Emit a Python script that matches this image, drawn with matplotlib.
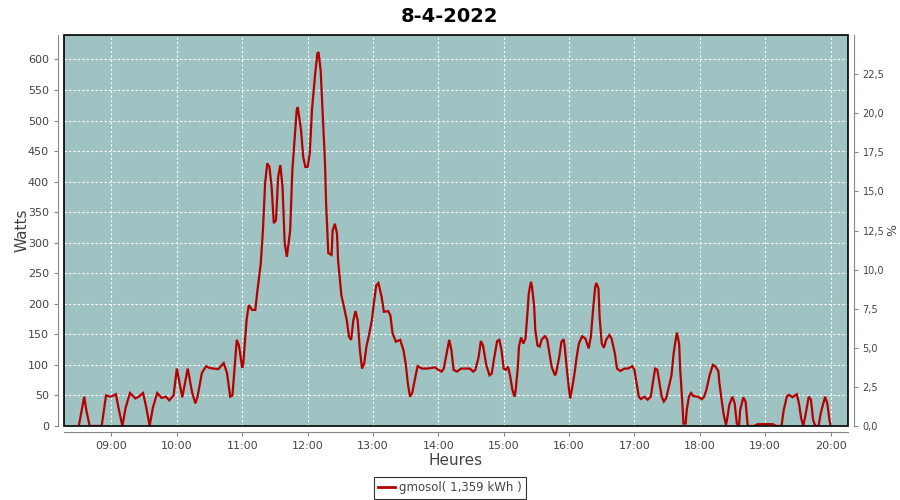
import matplotlib
matplotlib.use("Agg")
import matplotlib.pyplot as plt
import matplotlib.dates as mdates
from matplotlib.ticker import FuncFormatter, MultipleLocator
from matplotlib.patches import Rectangle
from matplotlib.lines import Line2D
import pandas as pd

title = "8-4-2022"
series_name = "gmosol( 1,359 kWh )"

times = [
    "08:30", "08:35", "08:37", "08:40", "08:51", "08:55", "08:59", "09:02", "09:04", "09:07",
    "09:10", "09:13", "09:17", "09:22", "09:25", "09:29", "09:32", "09:35", "09:38", "09:42",
    "09:46", "09:50", "09:53", "09:57", "10:00", "10:05", "10:10", "10:14", "10:17", "10:19",
    "10:23", "10:27", "10:30", "10:38", "10:43", "10:46", "10:49", "10:51", "10:55", "10:57",
    "11:00", "11:01", "11:04", "11:06", "11:09", "11:12", "11:14", "11:17", "11:19", "11:21",
    "11:23", "11:25", "11:27", "11:29", "11:31", "11:33", "11:35", "11:37", "11:39", "11:41",
    "11:44", "11:46", "11:48", "11:50", "11:51", "11:54", "11:56", "11:58", "12:00", "12:02",
    "12:04", "12:07", "12:09", "12:10", "12:12", "12:14", "12:16", "12:17", "12:19", "12:22",
    "12:23", "12:25", "12:27", "12:28", "12:30", "12:31", "12:33", "12:36", "12:38", "12:40",
    "12:42", "12:44", "12:46", "12:48", "12:50", "12:52", "12:54", "12:56", "12:59", "13:01",
    "13:03", "13:05", "13:08", "13:10", "13:14", "13:16", "13:18", "13:21", "13:25", "13:28",
    "13:30", "13:32", "13:34", "13:36", "13:39", "13:41", "13:45", "13:50", "13:57", "14:00",
    "14:03", "14:05", "14:07", "14:10", "14:12", "14:14", "14:17", "14:21", "14:29", "14:32",
    "14:34", "14:37", "14:39", "14:41", "14:44", "14:47", "14:49", "14:52", "14:54", "14:56",
    "14:58", "15:00", "15:02", "15:04", "15:06", "15:08", "15:10", "15:11", "15:13", "15:14",
    "15:16", "15:18", "15:20", "15:22", "15:23", "15:25", "15:26", "15:28", "15:29", "15:31",
    "15:33", "15:35", "15:38", "15:40", "15:42", "15:44", "15:47", "15:48", "15:51", "15:53",
    "15:55", "15:56", "15:58", "16:00", "16:01", "16:03", "16:05", "16:07", "16:09", "16:12",
    "16:15", "16:18", "16:20", "16:22", "16:24", "16:25", "16:27", "16:28", "16:30", "16:32",
    "16:34", "16:37", "16:39", "16:42", "16:44", "16:47", "16:51", "16:54", "16:58", "17:00",
    "17:02", "17:04", "17:06", "17:09", "17:12", "17:15", "17:17", "17:19", "17:21", "17:23",
    "17:25", "17:27", "17:29", "17:32", "17:34", "17:36", "17:38", "17:39", "17:41", "17:42",
    "17:44", "17:45", "17:47", "17:48", "17:50", "17:52", "17:54", "17:58", "18:02", "18:04",
    "18:06", "18:09", "18:12", "18:14", "18:17", "18:18", "18:20", "18:22", "18:24", "18:25",
    "18:27", "18:30", "18:32", "18:34", "18:36", "18:37", "18:40", "18:42", "18:44", "18:46",
    "18:50", "18:53", "19:07", "19:10", "19:15", "19:17", "19:20", "19:22", "19:25", "19:29",
    "19:31", "19:33", "19:35", "19:37", "19:40", "19:42", "19:44", "19:46", "19:49", "19:51",
    "19:55", "19:57", "19:59", "20:00",
]

watts = [
    0, 48, 25, 0, 0, 50, 48, 50, 52, 25,
    0, 30, 54, 45, 48, 54, 30, 0, 30, 54,
    46, 48, 42, 50, 94, 47, 94, 55, 37, 48,
    87, 98, 95, 93, 103, 87, 48, 50, 141, 132,
    95, 103, 173, 198, 190, 190, 222, 266, 320, 397,
    430, 424, 391, 332, 337, 408, 427, 391, 299, 277,
    320, 418, 467, 517, 522, 484, 440, 424, 424, 446,
    517, 577, 610, 612, 582, 506, 430, 364, 283, 280,
    320, 331, 315, 271, 233, 214, 198, 173, 146, 141,
    173, 188, 173, 124, 94, 103, 130, 146, 173, 203,
    230, 234, 211, 187, 188, 181, 152, 138, 141, 124,
    103, 70, 48, 54, 81, 98, 94, 94, 96, 92,
    89, 94, 113, 141, 124, 92, 89, 94, 94, 89,
    92, 113, 139, 132, 100, 83, 86, 119, 139, 141,
    124, 94, 92, 97, 81, 59, 48, 59, 97, 130,
    145, 135, 143, 190, 217, 236, 228, 195, 157, 132,
    130, 142, 147, 141, 119, 97, 83, 86, 113, 138,
    142, 130, 92, 59, 45, 64, 86, 113, 135, 147,
    143, 127, 146, 190, 228, 234, 225, 179, 135, 128,
    141, 149, 143, 119, 94, 90, 94, 94, 98, 92,
    70, 48, 44, 48, 43, 48, 72, 94, 92, 70,
    48, 40, 45, 67, 83, 119, 143, 153, 135, 92,
    37, 4, 4, 26, 48, 54, 49, 48, 44, 48,
    59, 83, 100, 98, 90, 70, 43, 18, 2, 10,
    34, 48, 37, 4, 0, 26, 47, 40, 0, 0,
    0, 3, 3, 0, 0, 26, 49, 51, 47, 52,
    37, 13, 0, 18, 48, 43, 10, 0, 0, 21,
    48, 37, 10, 0,
]

day = "2022-04-08 "
t = pd.to_datetime([day + s for s in times])

bg = "#9fc3c2"
line_col = "#b50000"
axis_gray = "#888888"
label_col = "#444444"

fig = plt.figure(figsize=(9, 5), dpi=100)
ax = fig.add_axes([0.0706, 0.148, 0.8716, 0.782])
ax.set_facecolor(bg)

ax.plot(t, watts, color=line_col, lw=1.6, zorder=3, solid_joinstyle="miter")

ax.set_xlim(pd.Timestamp(day + "08:16"), pd.Timestamp(day + "20:16"))
ax.set_ylim(0, 640)
ax.yaxis.set_major_locator(MultipleLocator(50))
ax.xaxis.set_major_locator(mdates.HourLocator())
ax.xaxis.set_major_formatter(mdates.DateFormatter("%H:%M"))
ax.grid(True, color="white", ls=(0, (2, 2)), lw=0.8)
ax.set_axisbelow(True)

for sp in ["top", "right"]:
    ax.spines[sp].set_visible(False)
for sp in ["left", "bottom"]:
    ax.spines[sp].set_position(("outward", 4))
    ax.spines[sp].set_color(axis_gray)
ax.add_patch(Rectangle((0, 0), 1, 1, transform=ax.transAxes, fill=False,
                       ec="black", lw=1.2, clip_on=False, zorder=5))

ax.tick_params(axis="both", colors=axis_gray, labelcolor=label_col,
               labelsize=8, length=3, width=0.8)
ax.set_ylabel("Watts", fontsize=11, color=label_col, labelpad=-1)
ax.set_xlabel("Heures", fontsize=11, color=label_col, labelpad=1.5)

ax2 = ax.twinx()
ax2.set_ylim(0, 25)
ax2.set_yticks([i * 2.5 for i in range(10)])
ax2.yaxis.set_major_formatter(FuncFormatter(lambda v, p: f"{v:.1f}".replace(".", ",")))
for sp in ["top", "left", "bottom"]:
    ax2.spines[sp].set_visible(False)
ax2.spines["right"].set_position(("outward", 4))
ax2.spines["right"].set_color(axis_gray)
ax2.tick_params(axis="y", colors=axis_gray, labelcolor=label_col, labelsize=7, length=3, width=0.8)
ax2.set_ylabel("%", fontsize=9, color=label_col, labelpad=1)

fig.suptitle(title, fontsize=14, fontweight="bold", y=0.985)

handle = Line2D([], [], color=line_col, lw=2)
leg = fig.legend([handle], [series_name], loc="center", bbox_to_anchor=(0.5, 0.024),
                 frameon=True, fancybox=False, edgecolor="black", fontsize=8.5,
                 handlelength=1.4, handletextpad=0.4, borderpad=0.35)
leg.get_frame().set_linewidth(0.8)
for txt in leg.get_texts():
    txt.set_color(label_col)

fig.savefig("out.png", dpi=100, facecolor="white")
